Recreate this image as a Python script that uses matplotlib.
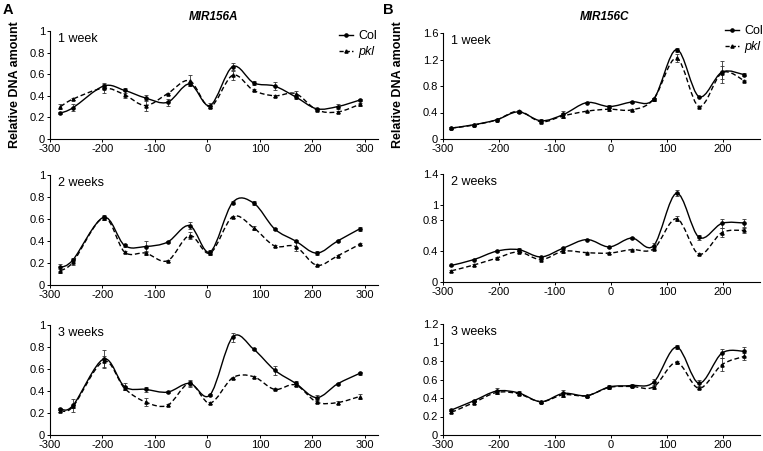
import matplotlib
matplotlib.use("Agg")
import matplotlib.pyplot as plt
from matplotlib.path import Path
from matplotlib.patches import PathPatch
from matplotlib.lines import Line2D
import numpy as np

plt.rcParams['font.family'] = ['Liberation Sans', 'DejaVu Sans']

# positions relative to TSS
pos_a = [-280, -256, -198, -158, -118, -76, -34, 5, 48, 88, 128, 168, 208, 248, 290]
pos_c = [-285, -245, -204, -165, -125, -85, -43, -3, 37, 76, 117, 157, 198, 238]

# MIR156A
a1_col = [0.24, 0.29, 0.49, 0.45, 0.38, 0.34, 0.51, 0.31, 0.67, 0.52, 0.49, 0.39, 0.28, 0.30, 0.36]
a1_pkl = [0.30, 0.37, 0.47, 0.41, 0.31, 0.42, 0.54, 0.30, 0.59, 0.45, 0.40, 0.42, 0.27, 0.25, 0.32]
a1_col_err = [0.01, 0.03, 0.03, 0.02, 0.03, 0.03, 0.02, 0.02, 0.03, 0.02, 0.04, 0.02, 0.01, 0.02, 0.01]
a1_pkl_err = [0.02, 0.01, 0.04, 0.03, 0.05, 0.01, 0.05, 0.01, 0.04, 0.01, 0.01, 0.02, 0.01, 0.01, 0.01]

a2_col = [0.16, 0.23, 0.615, 0.36, 0.35, 0.39, 0.54, 0.30, 0.75, 0.745, 0.51, 0.40, 0.29, 0.40, 0.51]
a2_pkl = [0.13, 0.21, 0.61, 0.30, 0.29, 0.22, 0.45, 0.29, 0.62, 0.52, 0.355, 0.35, 0.18, 0.265, 0.37]
a2_col_err = [0.03, 0.02, 0.02, 0.01, 0.05, 0.01, 0.03, 0.02, 0.01, 0.02, 0.01, 0.01, 0.02, 0.01, 0.02]
a2_pkl_err = [0.02, 0.03, 0.02, 0.01, 0.02, 0.01, 0.03, 0.02, 0.01, 0.02, 0.01, 0.04, 0.01, 0.01, 0.01]

a3_col = [0.235, 0.27, 0.69, 0.44, 0.415, 0.39, 0.47, 0.365, 0.89, 0.78, 0.59, 0.47, 0.34, 0.465, 0.56]
a3_pkl = [0.22, 0.26, 0.67, 0.425, 0.30, 0.27, 0.47, 0.29, 0.52, 0.53, 0.415, 0.455, 0.30, 0.295, 0.35]
a3_col_err = [0.01, 0.06, 0.08, 0.03, 0.02, 0.01, 0.03, 0.01, 0.04, 0.01, 0.04, 0.02, 0.02, 0.01, 0.01]
a3_pkl_err = [0.01, 0.01, 0.05, 0.02, 0.04, 0.01, 0.02, 0.01, 0.01, 0.01, 0.01, 0.01, 0.01, 0.01, 0.02]

# MIR156C
c1_col = [0.165, 0.215, 0.29, 0.41, 0.275, 0.37, 0.55, 0.49, 0.56, 0.60, 1.35, 0.64, 1.01, 0.97]
c1_pkl = [0.165, 0.21, 0.29, 0.42, 0.26, 0.35, 0.42, 0.45, 0.44, 0.60, 1.22, 0.49, 1.0, 0.88]
c1_col_err = [0.01, 0.01, 0.01, 0.02, 0.02, 0.06, 0.01, 0.02, 0.01, 0.02, 0.03, 0.01, 0.16, 0.02]
c1_pkl_err = [0.01, 0.01, 0.01, 0.02, 0.02, 0.04, 0.01, 0.02, 0.01, 0.02, 0.06, 0.01, 0.10, 0.01]

c2_col = [0.215, 0.29, 0.40, 0.42, 0.325, 0.44, 0.55, 0.455, 0.57, 0.47, 1.15, 0.58, 0.76, 0.765]
c2_pkl = [0.145, 0.22, 0.31, 0.39, 0.29, 0.40, 0.38, 0.375, 0.42, 0.43, 0.82, 0.36, 0.64, 0.67]
c2_col_err = [0.01, 0.01, 0.01, 0.02, 0.01, 0.02, 0.01, 0.01, 0.01, 0.04, 0.04, 0.03, 0.06, 0.05]
c2_pkl_err = [0.01, 0.01, 0.01, 0.01, 0.01, 0.02, 0.01, 0.01, 0.01, 0.01, 0.03, 0.01, 0.06, 0.03]

c3_col = [0.27, 0.37, 0.475, 0.455, 0.36, 0.45, 0.425, 0.52, 0.535, 0.57, 0.95, 0.56, 0.885, 0.905]
c3_pkl = [0.245, 0.35, 0.46, 0.445, 0.36, 0.435, 0.425, 0.515, 0.525, 0.52, 0.785, 0.505, 0.76, 0.85]
c3_col_err = [0.01, 0.01, 0.03, 0.02, 0.01, 0.04, 0.01, 0.02, 0.02, 0.04, 0.02, 0.03, 0.05, 0.05]
c3_pkl_err = [0.01, 0.01, 0.02, 0.01, 0.01, 0.02, 0.01, 0.01, 0.01, 0.02, 0.02, 0.01, 0.07, 0.04]

ages = ["1 week", "2 weeks", "3 weeks"]


def smooth_path(x, y):
    # Excel-like smoothed line: Catmull-Rom segments as cubic Bezier curves
    pts = np.column_stack([x, y]).astype(float)
    n = len(pts)
    verts = [pts[0]]
    codes = [Path.MOVETO]
    for i in range(n - 1):
        p0 = pts[i - 1] if i > 0 else pts[i]
        p1 = pts[i]
        p2 = pts[i + 1]
        p3 = pts[i + 2] if i + 2 < n else pts[i + 1]
        c1 = p1 + (p2 - p0) / 6.0
        c2 = p2 - (p3 - p1) / 6.0
        verts += [c1, c2, p2]
        codes += [Path.CURVE4] * 3
    return Path(verts, codes)


def draw(ax, x, col, pkl, col_err, pkl_err):
    ax.add_patch(PathPatch(smooth_path(x, col), fill=False, lw=1.0, ec='black'))
    ax.add_patch(PathPatch(smooth_path(x, pkl), fill=False, lw=1.0, ec='black', ls=(0, (3.5, 2))))
    ax.errorbar(x, col, yerr=col_err, fmt='none', ecolor='#333333', elinewidth=0.6, capsize=1.6, capthick=0.6)
    ax.errorbar(x, pkl, yerr=pkl_err, fmt='none', ecolor='#333333', elinewidth=0.6, capsize=1.6, capthick=0.6)
    ax.plot(x, col, 'o', color='black', ms=2.3, ls='none')
    ax.plot(x, pkl, '^', color='black', ms=2.3, ls='none')


def style(ax, xlim, ylim, yticks, xticks, label):
    ax.set_xlim(*xlim)
    ax.set_ylim(*ylim)
    ax.set_yticks(yticks)
    ax.set_yticklabels([f"{t:g}" for t in yticks])
    ax.set_xticks(xticks)
    ax.set_xticklabels([f"{t}" for t in xticks])
    for s in ['top', 'right']:
        ax.spines[s].set_visible(False)
    for s in ['left', 'bottom']:
        ax.spines[s].set_linewidth(0.8)
    ax.tick_params(length=2, width=0.7, labelsize=8, pad=1.5)
    ax.text(0.025, 0.98, label, transform=ax.transAxes, fontsize=9, va='top', ha='left')


fig = plt.figure(figsize=(7.63, 4.51), dpi=100)
W, H = 763.0, 451.0

def make_ax(x0, x1, ytop, ybot):
    return fig.add_axes([x0 / W, 1 - ybot / H, (x1 - x0) / W, (ybot - ytop) / H])

# column A
rows_a = [(31, 139), (175, 285), (325, 435)]
data_a = [(a1_col, a1_pkl, a1_col_err, a1_pkl_err),
          (a2_col, a2_pkl, a2_col_err, a2_pkl_err),
          (a3_col, a3_pkl, a3_col_err, a3_pkl_err)]
axes_a = []
for (yt, yb), d, lab in zip(rows_a, data_a, ages):
    ax = make_ax(50, 378, yt, yb)
    draw(ax, pos_a, *d)
    style(ax, (-300, 325), (0, 1), [0, 0.2, 0.4, 0.6, 0.8, 1],
          [-300, -200, -100, 0, 100, 200, 300], lab)
    axes_a.append(ax)

# column B
rows_c = [(33, 139, 1.6, [0, 0.4, 0.8, 1.2, 1.6]),
          (174, 282, 1.4, [0, 0.4, 0.8, 1, 1.4]),
          (324, 435, 1.2, [0, 0.2, 0.4, 0.6, 0.8, 1, 1.2])]
data_c = [(c1_col, c1_pkl, c1_col_err, c1_pkl_err),
          (c2_col, c2_pkl, c2_col_err, c2_pkl_err),
          (c3_col, c3_pkl, c3_col_err, c3_pkl_err)]
axes_c = []
for (yt, yb, ymax, yt_list), d, lab in zip(rows_c, data_c, ages):
    ax = make_ax(443, 760, yt, yb)
    draw(ax, pos_c, *d)
    style(ax, (-300, 266), (0, ymax), yt_list, [-300, -200, -100, 0, 100, 200], lab)
    axes_c.append(ax)

# legends
handles = [Line2D([], [], color='black', lw=1.0, marker='o', ms=2.3),
           Line2D([], [], color='black', lw=1.0, ls=(0, (3, 1.5)), marker='^', ms=2.3)]
names = ['Col', 'pkl']
for ax, (lx, ly) in ((axes_a[0], (333, 24)), (axes_c[0], (719, 19))):
    leg = ax.legend(handles, names, loc='upper left', bbox_to_anchor=(lx / W, 1 - ly / H),
                    bbox_transform=fig.transFigure, frameon=False,
                    fontsize=9, handlelength=1.1, handletextpad=0.4, labelspacing=0.3, borderpad=0)
    leg.get_texts()[1].set_fontstyle('italic')

# titles and panel letters
fig.text(214 / W, 1 - 17 / H, 'MIR156A', fontsize=8.5, fontweight='bold', fontstyle='italic',
         ha='center', va='center')
fig.text(605 / W, 1 - 17 / H, 'MIR156C', fontsize=8.5, fontweight='bold', fontstyle='italic',
         ha='center', va='center')
fig.text(3 / W, 1 - 10 / H, 'A', fontsize=10.5, fontweight='bold', ha='left', va='center')
fig.text(383 / W, 1 - 10 / H, 'B', fontsize=10.5, fontweight='bold', ha='left', va='center')
fig.text(15 / W, 1 - 85 / H, 'Relative DNA amount', fontsize=9, fontweight='bold',
         rotation=90, ha='center', va='center')
fig.text(398 / W, 1 - 85 / H, 'Relative DNA amount', fontsize=9, fontweight='bold',
         rotation=90, ha='center', va='center')

fig.savefig('out.png', dpi=100)
